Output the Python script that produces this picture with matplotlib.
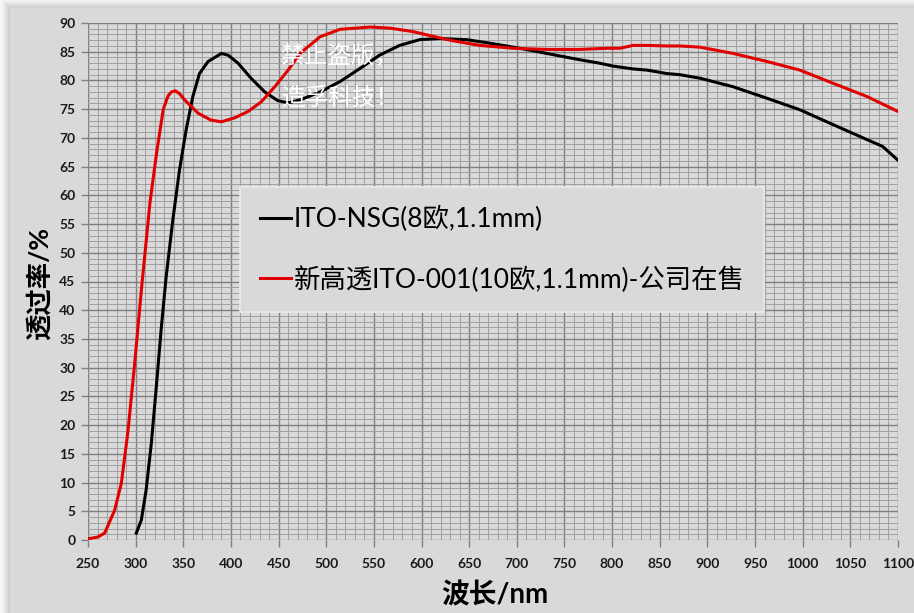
import matplotlib
matplotlib.use('Agg')
import matplotlib.pyplot as plt
from matplotlib.patches import Rectangle
from matplotlib.ticker import MultipleLocator

# ITO-NSG (8欧, 1.1mm)
nsg_wl = [300.7, 306, 311, 316.5, 321.7, 327, 332, 339, 346, 353, 360, 367, 376, 383,
          390, 397, 407.5, 421, 435.5, 449, 460, 472.5, 493.5, 514.5, 535.5, 556, 577,
          598, 619, 647.5, 675, 703, 731.5, 766, 787, 801, 822, 836.6, 857.5, 871, 892,
          927, 962.5, 997, 1032, 1067.5, 1084, 1100]
nsg_t = [1.2, 3.5, 8.7, 16.9, 26.7, 37.1, 45.8, 55.7, 64.4, 71.4, 77.2, 81.2, 83.3, 84.0,
         84.7, 84.4, 83.0, 80.4, 78.0, 76.5, 76.1, 76.6, 78.0, 79.8, 82.1, 84.4, 86.1,
         87.1, 87.3, 87.1, 86.4, 85.6, 84.7, 83.6, 83.0, 82.5, 82.0, 81.8, 81.2, 81.0, 80.4,
         78.9, 76.9, 74.9, 72.3, 69.7, 68.5, 66.1]

# 新高透ITO-001 (10欧, 1.1mm)
new_wl = [250, 260, 267.5, 278, 285, 292, 299, 306, 315, 322, 329, 334, 337.5, 341.6,
          346, 351.5, 365.5, 379, 390, 404, 418, 432, 446, 460, 472.5, 493.5, 514.5, 546,
          567, 591, 609, 633, 661, 696, 731.5, 766, 794.6, 808, 822, 836.6, 857.5, 871,
          892, 927, 962.5, 997, 1032, 1067.5, 1100]
new_t = [0.2, 0.5, 1.2, 5.2, 9.9, 19.0, 30.8, 43.5, 58.7, 67.4, 75.0, 77.3, 78.0, 78.2,
         77.7, 76.6, 74.3, 73.1, 72.8, 73.5, 74.6, 76.3, 78.9, 81.8, 84.7, 87.6, 88.9, 89.3,
         89.1, 88.5, 87.8, 86.9, 86.1, 85.6, 85.4, 85.4, 85.6, 85.6, 86.1, 86.1, 86.0, 86.0,
         85.8, 84.7, 83.3, 81.8, 79.5, 77.2, 74.6]

labels = ['ITO-NSG(8欧,1.1mm)', '新高透ITO-001(10欧,1.1mm)-公司在售']
watermark = ['禁止盗版，', '造孚科技！']

bg = '#d9d9d9'
cjk = ['Lato', 'Noto Sans CJK SC', 'DejaVu Sans']

fig = plt.figure(figsize=(9.14, 6.13), dpi=100, facecolor='white')

# panel with soft shadow
W, H = 914.0, 613.0
for i, a in enumerate([0.05, 0.06, 0.08, 0.10, 0.12]):
    off = 5 - i
    fig.patches.append(Rectangle(((10 - off * 2) / W, 0), 1, (605 + off * 2) / H,
                                 transform=fig.transFigure, facecolor='#808080',
                                 alpha=a, edgecolor='none', zorder=-3))
fig.patches.append(Rectangle((10 / W, 0), 1, 605 / H, transform=fig.transFigure,
                             facecolor=bg, edgecolor='none', zorder=-2))

ax = fig.add_axes([88 / W, 73 / H, 810 / W, 517 / H])
ax.set_zorder(2)
ax.set_facecolor(bg)
ax.set_xlim(250, 1100)
ax.set_ylim(0, 90)
ax.xaxis.set_major_locator(MultipleLocator(50))
ax.xaxis.set_minor_locator(MultipleLocator(10))
ax.yaxis.set_major_locator(MultipleLocator(5))
ax.yaxis.set_minor_locator(MultipleLocator(1))
ax.grid(which='major', color='#7f7f7f', linewidth=1.0)
ax.grid(which='minor', color='#a0a0a0', linewidth=0.7)
ax.set_axisbelow(True)
for s in ax.spines.values():
    s.set_visible(False)
ax.tick_params(axis='x', which='major', length=5, color='#7f7f7f', width=1, pad=8)
ax.tick_params(axis='y', which='major', length=5, color='#7f7f7f', width=1, pad=4)
ax.tick_params(which='minor', length=0)
for lab in ax.get_xticklabels() + ax.get_yticklabels():
    lab.set_fontfamily(cjk)
    lab.set_fontweight('bold')
    lab.set_fontsize(10)
    lab.set_color('#1a1a1a')

ax.plot(nsg_wl, nsg_t, color='black', linewidth=2.2, label=labels[0], zorder=3)
ax.plot(new_wl, new_t, color='#e00000', linewidth=2.2, label=labels[1], zorder=3)

leg = ax.legend(loc='upper left', bbox_to_anchor=(0.188, 0.683), frameon=True,
                fancybox=False, framealpha=1, facecolor=bg, edgecolor='#ebebeb',
                prop={'family': cjk, 'size': 19}, handlelength=1.2,
                handletextpad=0.1, labelspacing=1.27, borderpad=0.73, borderaxespad=0)
leg.get_frame().set_linewidth(1.2)
leg.set_zorder(5)

ax.text(451.5, 84.4, watermark[0], color='white', fontsize=17, family=cjk,
        va='center', zorder=6)
ax.text(453, 77.1, watermark[1], color='white', fontsize=17, family=cjk,
        va='center', zorder=6)

fig.text(40 / W, 1 - 283 / H, '透过率/%', rotation=90, ha='center', va='center',
         fontsize=19, fontweight='bold', family=cjk)
fig.text(495 / W, 1 - 595 / H, '波长/nm', ha='center', va='center',
         fontsize=20, fontweight='bold', family=cjk)

fig.savefig('out.png', dpi=100, facecolor=fig.get_facecolor())
